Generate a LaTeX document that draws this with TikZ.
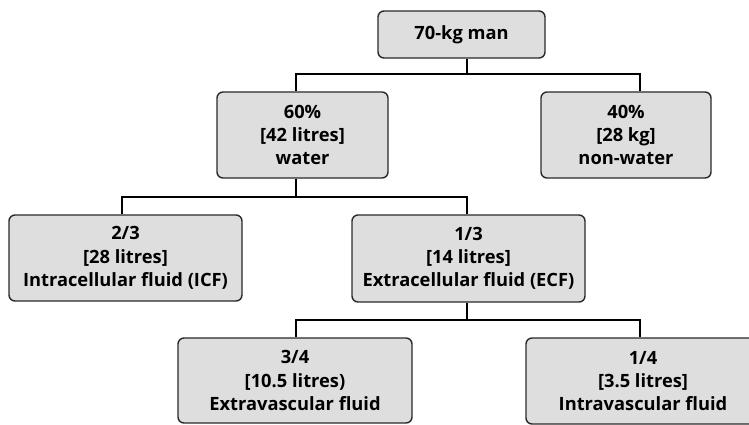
\documentclass[tikz,border=0pt]{standalone}
\usepackage{fontspec}
\setmainfont{Open Sans}
\definecolor{boxgray}{HTML}{DEDEDE}
\definecolor{edgegray}{HTML}{2A2A2A}
\begin{document}
\begin{tikzpicture}[x=1pt,y=-1pt,
  fbox/.style={draw=edgegray, line width=1.4pt, fill=boxgray, rounded corners=6pt,
    inner sep=0pt, align=center, font=\bfseries\fontsize{18.3}{23.2}\selectfont},
  conn/.style={draw=black, line width=1.8pt}]
\clip (0,0) rectangle (749,424);
\fill[white] (0,0) rectangle (749,424);
\node[fbox, minimum width=167pt, minimum height=47pt] (top) at (461.5,34.5) {70-kg man};
\node[fbox, minimum width=171pt, minimum height=86pt] (water) at (302.5,135) {60\%\\{[}42 litres{]}\\water};
\node[fbox, minimum width=170pt, minimum height=86pt] (nonwater) at (626,135) {40\%\\{[}28 kg{]}\\non-water};
\node[fbox, minimum width=233pt, minimum height=86pt] (icf) at (125.5,258) {2/3\\{[}28 litres{]}\\Intracellular fluid (ICF)};
\node[fbox, minimum width=233pt, minimum height=87pt] (ecf) at (468.5,258.5) {1/3\\{[}14 litres{]}\\Extracellular fluid (ECF)};
\node[fbox, minimum width=234pt, minimum height=85pt] (extra) at (295,380.5) {3/4\\{[}10.5 litres)\\Extravascular fluid};
\node[fbox, minimum width=234pt, minimum height=86pt] (intra) at (643,381) {1/4\\{[}3.5 litres{]}\\Intravascular fluid};
\draw[conn] ([xshift=5.5pt]top.south) -- ++(0,15) -| ([xshift=-6.5pt]water.north);
\draw[conn] ([xshift=5.5pt]top.south) -- ++(0,15) -| ([xshift=14pt]nonwater.north);
\draw[conn] ([xshift=-6.5pt]water.south) -- ++(0,18) -| ([xshift=-3.5pt]icf.north);
\draw[conn] ([xshift=-6.5pt]water.south) -- ++(0,18) -| ([xshift=-1.5pt]ecf.north);
\draw[conn] ([xshift=-1.5pt]ecf.south) -- ++(0,17) -| ([xshift=1pt]extra.north);
\draw[conn] ([xshift=-1.5pt]ecf.south) -- ++(0,17) -| ([xshift=-3pt]intra.north);
\end{tikzpicture}
\end{document}
